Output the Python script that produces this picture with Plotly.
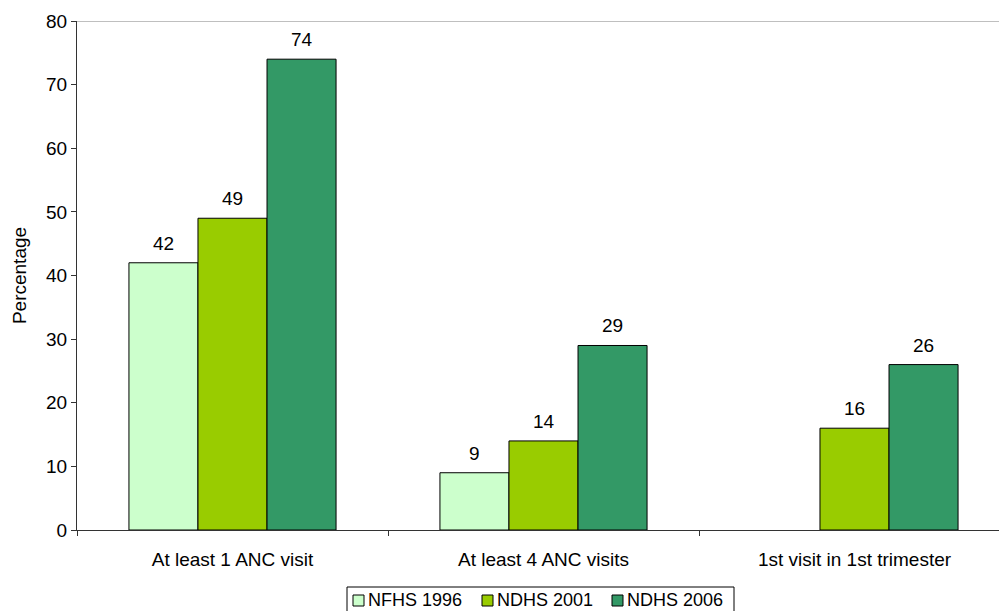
import plotly.graph_objects as go

categories = ["At least 1 ANC visit", "At least 4 ANC visits", "1st visit in 1st trimester"]
nfhs_1996 = [42, 9, None]
ndhs_2001 = [49, 14, 16]
ndhs_2006 = [74, 29, 26]
y_ticks = [0, 10, 20, 30, 40, 50, 60, 70, 80]

series = [
    ("NFHS 1996", nfhs_1996, "#CCFFCC"),
    ("NDHS 2001", ndhs_2001, "#99CC00"),
    ("NDHS 2006", ndhs_2006, "#339966"),
]

FONT = "Arial, 'Liberation Sans', sans-serif"
FS = 19
LEGEND_FS = 18

W, H = 999, 611
ML, MR, MT, MB = 77, 0, 21, 81
PW, PH = W - ML - MR, H - MT - MB
BARGAP = 0.334
CAT_PX = 311  # pixel width of one category slot
BAR_PX = CAT_PX * (1 - BARGAP) / len(series)


def px_x(px):
    return (px - ML) / PW


def px_y(py):
    return (H - MB - py) / PH


fig = go.Figure()
annotations = []
for i, (name, vals, color) in enumerate(series):
    fig.add_trace(go.Bar(
        name=name,
        x=categories,
        y=vals,
        marker=dict(color=color, line=dict(color="#000000", width=1)),
        showlegend=False,
        cliponaxis=False,
    ))
    # value labels above each bar
    for cat, v in zip(categories, vals):
        if v is None:
            continue
        annotations.append(dict(
            x=cat, y=v, xref="x", yref="y",
            text=f"{v:.0f}", showarrow=False,
            xanchor="center", yanchor="bottom",
            xshift=(i - (len(series) - 1) / 2) * BAR_PX, yshift=7,
            font=dict(family=FONT, size=FS, color="#000000"),
        ))

# legend box drawn below the axis
LEG_MID = 600
shapes = [
    dict(type="line", xref="paper", yref="y", x0=0, x1=1, y0=80, y1=80,
         line=dict(color="#808080", width=1)),
    dict(type="rect", xref="paper", yref="paper",
         x0=px_x(347), x1=px_x(734), y0=px_y(620), y1=px_y(LEG_MID - 13),
         line=dict(color="#000000", width=1), fillcolor="#FFFFFF", layer="above"),
]
legend_left = [353, 482, 612]
for (name, vals, color), lx in zip(series, legend_left):
    shapes.append(dict(
        type="rect", xref="paper", yref="paper",
        x0=px_x(lx), x1=px_x(lx + 11), y0=px_y(LEG_MID + 6), y1=px_y(LEG_MID - 5),
        line=dict(color="#000000", width=1), fillcolor=color, layer="above",
    ))
    annotations.append(dict(
        x=px_x(lx + 13), y=px_y(LEG_MID), xref="paper", yref="paper",
        text=name, showarrow=False, xanchor="left", yanchor="middle",
        font=dict(family=FONT, size=LEGEND_FS, color="#000000"),
    ))

fig.update_layout(
    width=W,
    height=H,
    margin=dict(l=ML, r=MR, t=MT, b=MB, autoexpand=False),
    paper_bgcolor="#FFFFFF",
    plot_bgcolor="#FFFFFF",
    barmode="group",
    bargap=BARGAP,
    bargroupgap=0,
    font=dict(family=FONT, size=FS, color="#000000"),
    showlegend=False,
    xaxis=dict(
        type="category",
        range=[-0.5, -0.5 + PW / CAT_PX],
        automargin=False,
        showline=True, linecolor="#333333", linewidth=1,
        ticks="outside", ticklen=5, tickcolor="#333333",
        tickson="boundaries",
        ticklabelstandoff=12,
        showgrid=False, zeroline=False,
        tickfont=dict(family=FONT, size=FS, color="#000000"),
    ),
    yaxis=dict(
        range=[0, 80],
        tickvals=y_ticks,
        automargin=False,
        showline=True, linecolor="#333333", linewidth=1,
        ticks="outside", ticklen=5, tickcolor="#333333",
        showgrid=False, zeroline=False,
        tickfont=dict(family=FONT, size=FS, color="#000000"),
        title=dict(text="Percentage", font=dict(family=FONT, size=FS, color="#000000"), standoff=14),
    ),
    shapes=shapes,
    annotations=annotations,
)

fig.write_html("out.html")
